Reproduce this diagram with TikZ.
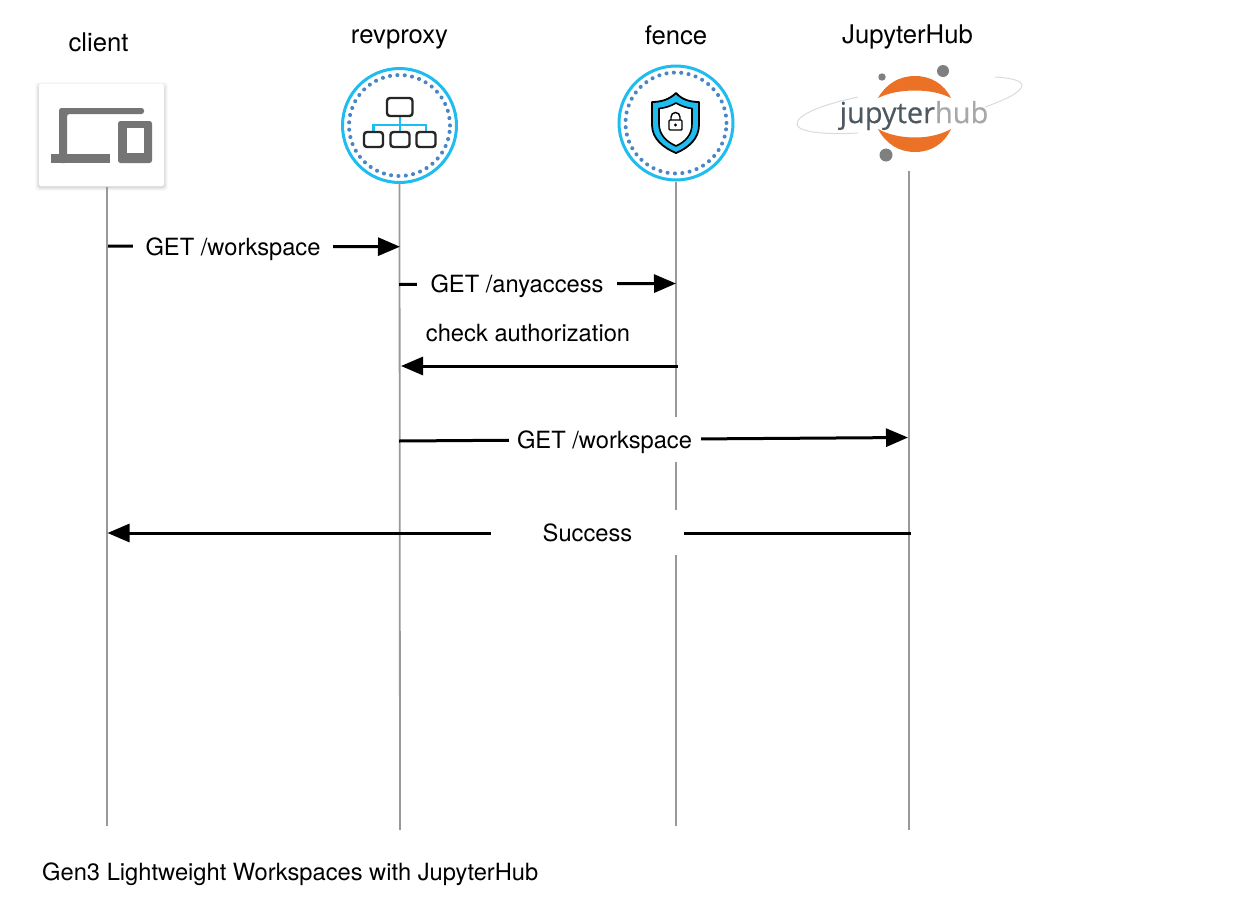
\documentclass[tikz,border=0pt]{standalone}
\usepackage{fontspec}
\setmainfont{TeX Gyre Heros}
\newfontfamily\logofont[FakeBold=0.5]{Open Sans}
\usetikzlibrary{arrows.meta}
\definecolor{ringblue}{HTML}{1FBCEF}
\definecolor{dotblue}{HTML}{4A86C5}
\definecolor{lifegray}{HTML}{999999}
\definecolor{icongray}{HTML}{757575}
\definecolor{jorange}{HTML}{EA7125}
\definecolor{jdot}{HTML}{7F7F7F}
\tikzset{
  lifeline/.style={draw=lifegray,line width=1.8pt},
  msg/.style={draw=black,line width=3pt,-{Triangle[length=22pt,width=18pt]},shorten >=0pt},
  lbl/.style={font=\fontsize{23.7}{28}\selectfont,text=black},
  gaplbl/.style={lbl,fill=white,inner sep=0pt,minimum height=45pt,text height=16pt,text depth=0pt},
  head/.style={font=\fontsize{25.7}{30}\selectfont,text=black},
  ring/.style={circle,draw=ringblue,line width=3pt,fill=white,minimum size=114pt,inner sep=0pt},
  dots/.style={draw=dotblue,line width=4pt,line cap=round,dash pattern=on 0.1pt off 7.3pt},
  darkbox/.style={draw=black!85,line width=2.4pt,rounded corners=3pt,fill=white},
  wire/.style={draw=ringblue,line width=2.8pt},
  swoosh/.style={draw=black!14,line width=1pt},
}
\begin{document}
\begin{tikzpicture}[x=1pt,y=-1pt]
\useasboundingbox (0,0) rectangle (1259,924);
\fill[white] (0,0) rectangle (1259,924);

% client card with a soft shadow
\foreach \g/\o in {4/0.02,3/0.03,2/0.04,1/0.05}
  \fill[black,opacity=\o,rounded corners=3pt] (39-\g,85-\g+1) rectangle (164+\g,186+\g+1);
\node (clienticon) [draw=none,fill=white,rounded corners=2pt,minimum width=125pt,minimum height=102pt,inner sep=0pt] at (101.5,135) {};
\fill[icongray,rounded corners=2.5pt] (59,163) -- (59,108) -- (144,108) -- (144,114) -- (67,114) -- (67,163) -- cycle;
\fill[icongray] (51,153.5) rectangle (110,163);
\fill[icongray,rounded corners=2.5pt] (118,121) rectangle (152,163);
\fill[white] (127,128) rectangle (144,153);

% revproxy icon
\node (revproxyicon) [ring] at (399.5,125.5) {};
\draw[dots] (399.5,125.5) circle[radius=50.5pt];
\draw[wire] (400,116) -- (400,132);
\draw[wire] (373.5,132) -- (373.5,125) -- (426,125) -- (426,132);
\draw[darkbox] (387,98) rectangle (412.5,116);
\draw[darkbox] (364,132) rectangle (383,147);
\draw[darkbox] (390.5,132) rectangle (409.5,147);
\draw[darkbox] (416.5,132) rectangle (435.5,147);

% fence icon
\node (fenceicon) [ring] at (676,123) {};
\draw[dots] (676,123) circle[radius=50.5pt];
\draw[draw=black,line width=1.8pt,fill=ringblue,line join=round]
  (676,93) .. controls (669,100) and (660,102) .. (652,102)
  -- (652,125) .. controls (652,139) and (664,148) .. (676,153)
  .. controls (688,148) and (699,139) .. (699,125)
  -- (699,102) .. controls (691,102) and (682,100) .. (676,93) -- cycle;
\draw[draw=black,line width=1.6pt,fill=white,line join=round]
  (676,103) .. controls (671,106) and (665,108) .. (659,108.5)
  -- (659,124) .. controls (659,135) and (667,142) .. (676,146)
  .. controls (685,142) and (692,135) .. (692,124)
  -- (692,108.5) .. controls (687,108) and (681,106) .. (676,103) -- cycle;
\draw[black,line width=1.4pt,rounded corners=1pt,fill=white] (669,120) rectangle (682,130);
\draw[black,line width=1.4pt] (671,120) -- (671,117) arc[start angle=180,end angle=0,radius=4.5pt] -- (680,120);
\fill[black] (675.5,125) circle[radius=1.6pt];

% JupyterHub logo
\draw[swoosh] (858,97) .. controls (825,104) and (797,114) .. (797,124) .. controls (797,132) and (825,135) .. (858,133);
\draw[swoosh] (995,77) .. controls (1012,78) and (1022,81) .. (1022,85) .. controls (1022,92) and (1005,100) .. (985,107);
\fill[jorange] (878,98) .. controls (886,84) and (899,76) .. (915,76) .. controls (931,76) and (944,84) .. (951,98)
  .. controls (941,93) and (929,90.5) .. (915,90.5) .. controls (901,90.5) and (888,93) .. (878,98) -- cycle;
\fill[jorange] (878,129) .. controls (886,144) and (899,152) .. (915,152) .. controls (931,152) and (944,144) .. (951,129)
  .. controls (941,134.5) and (929,137.5) .. (915,137.5) .. controls (901,137.5) and (888,134.5) .. (878,129) -- cycle;
\fill[jdot] (943,71) circle[radius=6pt];
\fill[jdot] (882,77) circle[radius=3.7pt];
\fill[jdot] (886,155) circle[radius=6.5pt];
\node (hublogo) [inner sep=0pt,anchor=center,font=\logofont\fontsize{29}{34}\selectfont] at (914,115.5)
  {\textcolor[HTML]{4E5860}{jupyter}\textcolor[HTML]{A8A8A8}{hub}};
\coordinate (hubtop) at (909,171);

% heads
\node (h1) [head] at (98.5,42) {client};
\node (h2) [head] at (399.5,39) {revproxy};
\node (h3) [head] at (676,35) {fence};
\node (h4) [head] at (907.5,37) {JupyterHub};

% lifeline ends
\coordinate (clientend) at (107,826);
\coordinate (revproxyend) at (400,830);
\coordinate (fenceend) at (676,826);
\coordinate (hubend) at (909,830);
\draw[lifeline] (107,187) -- (clientend);
\draw[lifeline] (revproxyicon.south) -- (revproxyend);
\draw[lifeline] (fenceicon.south) -- (fenceend);
\draw[lifeline] (hubtop) -- (hubend);

% message anchors
\coordinate (a1) at (108,246);
\coordinate (b1) at (400,246.7);
\coordinate (a2) at (399,284.5);
\coordinate (b2) at (676,283.5);
\coordinate (a3) at (678,366);
\coordinate (b3) at (401,366);
\coordinate (a4) at (399,441);
\coordinate (b4) at (908,437.5);
\coordinate (a5) at (911,533);
\coordinate (b5) at (107.5,533);
\draw[msg] (a1) -- (b1);
\draw[msg] (a2) -- (b2);
\draw[msg] (a3) -- (b3);
\draw[msg] (a4) -- (b4);
\draw[msg] (a5) -- (b5);

% labels (white background interrupts lines beneath)
\node (m1) [gaplbl,minimum width=200pt] at (233,247.5) {GET /workspace};
\node (m2) [gaplbl,minimum width=200pt] at (517,284.5) {GET /anyaccess};
\node (m3) [lbl] at (528,333.5) {check authorization};
\node (m4) [gaplbl,minimum width=192pt,text height=18pt] at (604.5,439.5) {GET /workspace};
\node (m5) [gaplbl,minimum width=193pt,text height=17pt] at (587.5,532.5) {Success};
\node (title) [lbl,anchor=west,inner sep=0pt] at (42,874) {Gen3 Lightweight Workspaces with JupyterHub};
\end{tikzpicture}
\end{document}
